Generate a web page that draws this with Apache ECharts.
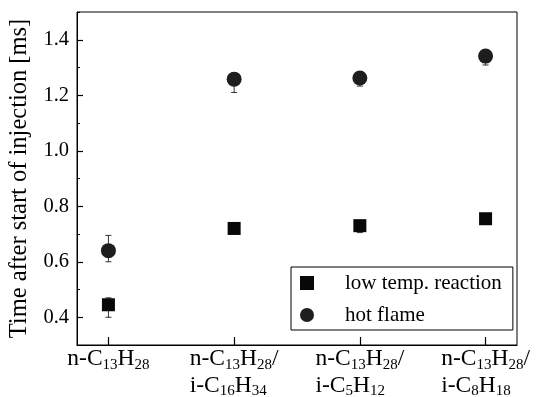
<!DOCTYPE html>
<html>
<head>
<meta charset="utf-8">
<script src="https://cdn.jsdelivr.net/npm/echarts@6/dist/echarts.min.js"></script>
<style>
  html, body { margin: 0; padding: 0; background: #fff; }
  #chart { width: 536px; height: 397px; }
</style>
</head>
<body>
<div id="chart"></div>
<script>
// Fuel blends (rich-text markup: {n|...} normal, {s|...} subscript)
const categories = [
  '{n|n-C}{s|13}{n|H}{s|28}',
  '{n|n-C}{s|13}{n|H}{s|28}{n|/}\n{n|i-C}{s|16}{n|H}{s|34}',
  '{n|n-C}{s|13}{n|H}{s|28}{n|/}\n{n|i-C}{s|5}{n|H}{s|12}',
  '{n|n-C}{s|13}{n|H}{s|28}{n|/}\n{n|i-C}{s|8}{n|H}{s|18}'
];

// Low temperature reaction onset [ms] with error range
const lowTemp = [0.445, 0.72, 0.73, 0.755];
const lowTempLow = [0.40, 0.71, 0.705, 0.74];
const lowTempHigh = [0.47, 0.73, 0.74, 0.765];

// Hot flame onset [ms] with error range
const hotFlame = [0.64, 1.258, 1.262, 1.341];
const hotFlameLow = [0.60, 1.21, 1.233, 1.309];
const hotFlameHigh = [0.695, 1.28, 1.28, 1.362];

const yTicks = [0.4, 0.6, 0.8, 1.0, 1.2, 1.4];
const xTicks = [0, 1, 2, 3];

const FONT = 'Liberation Serif';

function points(values) {
  return values.map((v, i) => [i, v]);
}
function ranges(lo, hi) {
  return lo.map((v, i) => [i, v, hi[i]]);
}

function errorBar(params, api) {
  const x = api.value(0);
  const pLo = api.coord([x, api.value(1)]);
  const pHi = api.coord([x, api.value(2)]);
  const cap = 3;
  const style = { stroke: '#333', lineWidth: 1, fill: null };
  return {
    type: 'group',
    children: [
      { type: 'line', shape: { x1: pLo[0], y1: pLo[1], x2: pHi[0], y2: pHi[1] }, style },
      { type: 'line', shape: { x1: pLo[0] - cap, y1: pLo[1], x2: pLo[0] + cap, y2: pLo[1] }, style },
      { type: 'line', shape: { x1: pHi[0] - cap, y1: pHi[1], x2: pHi[0] + cap, y2: pHi[1] }, style }
    ]
  };
}

const chart = echarts.init(document.getElementById('chart'), null, { renderer: 'canvas' });

chart.setOption({
  animation: false,
  backgroundColor: '#fff',
  textStyle: { fontFamily: FONT, color: '#000' },
  grid: {
    left: 77, right: 19, top: 12, bottom: 52,
    outerBoundsMode: 'none',
    containLabel: false,
    show: true, borderColor: '#000', borderWidth: 1, backgroundColor: 'transparent'
  },
  legend: {
    orient: 'vertical',
    left: 291, top: 267,
    backgroundColor: '#fff',
    borderColor: '#000', borderWidth: 1, borderRadius: 0,
    padding: [4, 11, 3, 9],
    itemGap: 8,
    itemWidth: 14, itemHeight: 14,
    textStyle: { fontFamily: FONT, fontSize: 21, color: '#000', lineHeight: 24, padding: [0, 0, 0, 26] },
    data: [
      { name: 'low temp. reaction', icon: 'rect' },
      { name: 'hot flame', icon: 'circle' }
    ]
  },
  xAxis: {
    type: 'value',
    min: -0.25, max: 3.25,
    splitLine: { show: false },
    axisLine: { show: true, onZero: false, lineStyle: { color: '#000', width: 1 } },
    axisTick: { show: true, inside: true, length: 8, customValues: xTicks, lineStyle: { color: '#000', width: 1.2 } },
    axisLabel: {
      customValues: xTicks,
      margin: 1,
      formatter: v => categories[Math.round(v)],
      lineHeight: 26.5,
      rich: {
        n: { fontFamily: FONT, fontSize: 23.5, color: '#000', lineHeight: 26.5, align: 'left', verticalAlign: 'middle' },
        s: { fontFamily: FONT, fontSize: 15, color: '#000', lineHeight: 17, align: 'left', verticalAlign: 'bottom' }
      }
    }
  },
  yAxis: [
    {
      type: 'value',
      min: 0.3, max: 1.5,
      name: 'Time after start of injection [ms]',
      nameLocation: 'middle',
      nameGap: 43,
      nameTextStyle: { fontFamily: FONT, fontSize: 24.5, color: '#000' },
      splitLine: { show: false },
      axisLine: { show: true, onZero: false, lineStyle: { color: '#000', width: 1 } },
      axisTick: { show: true, inside: true, length: 6, customValues: yTicks, lineStyle: { color: '#000', width: 1.2 } },
      axisLabel: {
        customValues: yTicks,
        margin: 8,
        fontFamily: FONT, fontSize: 20.5, color: '#000',
        formatter: v => v.toFixed(1)
      }
    },
    {
      type: 'value',
      min: 0.3, max: 1.5, interval: 0.1,
      position: 'left',
      splitLine: { show: false },
      axisLine: { show: false, onZero: false },
      axisTick: { show: true, inside: true, length: 3, lineStyle: { color: '#000', width: 1 } },
      axisLabel: { show: false }
    }
  ],
  series: [
    {
      type: 'custom',
      name: 'lowErr',
      renderItem: errorBar,
      data: ranges(lowTempLow, lowTempHigh),
      z: 1,
      silent: true
    },
    {
      type: 'custom',
      name: 'hotErr',
      renderItem: errorBar,
      data: ranges(hotFlameLow, hotFlameHigh),
      z: 1,
      silent: true
    },
    {
      type: 'scatter',
      name: 'low temp. reaction',
      symbol: 'rect',
      symbolSize: 13,
      itemStyle: { color: '#080808', opacity: 1 },
      data: points(lowTemp),
      z: 3
    },
    {
      type: 'scatter',
      name: 'hot flame',
      symbol: 'circle',
      symbolSize: 15,
      itemStyle: { color: '#1e1e1e', opacity: 1 },
      data: points(hotFlame),
      z: 3
    }
  ]
});
</script>
</body>
</html>
